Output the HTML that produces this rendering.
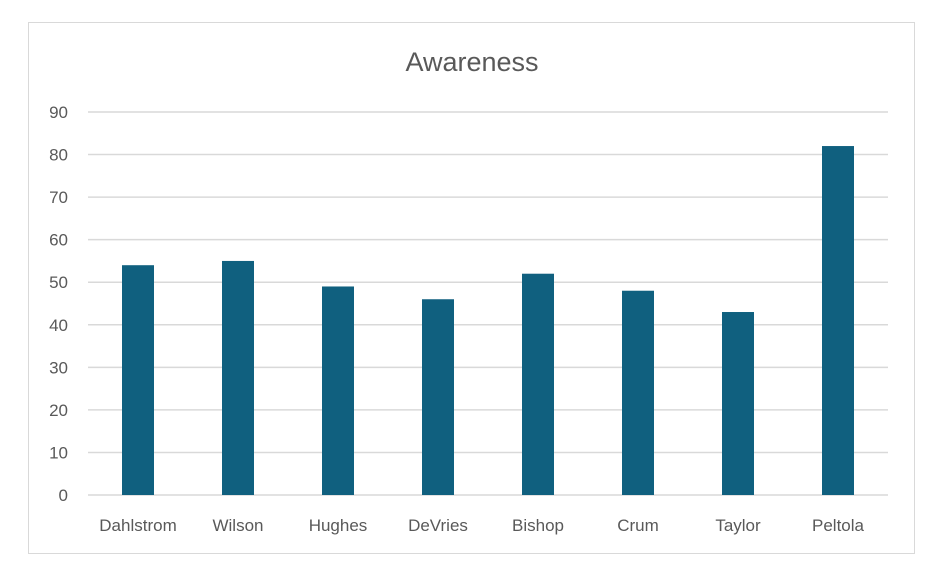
<!DOCTYPE html>
<html><head><meta charset="utf-8"><style>
html,body{margin:0;padding:0;background:#fff;}
svg{display:block;font-family:"Liberation Sans",sans-serif;}
</style></head><body>
<svg id="chart" width="936" height="574">
<rect x="28.5" y="22.5" width="886" height="531" fill="#fff" stroke="#d9d9d9"/>
<text x="472" y="71" text-anchor="middle" font-size="27" fill="#595959">Awareness</text>
<g id="grid"></g><g id="bars"></g><g id="labels"></g>
</svg>
<script>
const categories=["Dahlstrom","Wilson","Hughes","DeVries","Bishop","Crum","Taylor","Peltola"];
const values=[54,55,49,46,52,48,43,82];
const yTicks=[0,10,20,30,40,50,60,70,80,90];
const NS="http://www.w3.org/2000/svg";
const x0=88,x1=888,yBase=495,yTop=112,yMax=90;
function y(v){return yBase-(v/yMax)*(yBase-yTop);}
function xc(i){return x0+(x1-x0)/categories.length*(i+0.5);}
const grid=document.getElementById('grid'),bars=document.getElementById('bars'),labels=document.getElementById('labels');
yTicks.forEach(t=>{
  const l=document.createElementNS(NS,'line');
  
  
  l.setAttribute('x1',x0);l.setAttribute('x2',x1);l.setAttribute('y1',y(t));l.setAttribute('y2',y(t));
  l.setAttribute('stroke','#d9d9d9');l.setAttribute('stroke-width','1.5');
  grid.appendChild(l);
  const tx=document.createElementNS(NS,'text');
  
  
  tx.setAttribute('x',68);tx.setAttribute('y',y(t)+6);tx.setAttribute('text-anchor','end');
  tx.setAttribute('font-size','17');tx.setAttribute('fill','#595959');
  tx.textContent=t;labels.appendChild(tx);
});
categories.forEach((c,i)=>{
  const r=document.createElementNS(NS,'rect');
  
  
  r.setAttribute('x',xc(i)-16);r.setAttribute('width',32);
  r.setAttribute('y',y(values[i]));r.setAttribute('height',yBase-y(values[i]));
  r.setAttribute('fill','#10607f');
  bars.appendChild(r);
  const tx=document.createElementNS(NS,'text');
  
  
  tx.setAttribute('x',xc(i));tx.setAttribute('y',531);tx.setAttribute('text-anchor','middle');
  tx.setAttribute('font-size','17');tx.setAttribute('fill','#595959');
  tx.textContent=c;labels.appendChild(tx);
});
</script>
</body></html>
